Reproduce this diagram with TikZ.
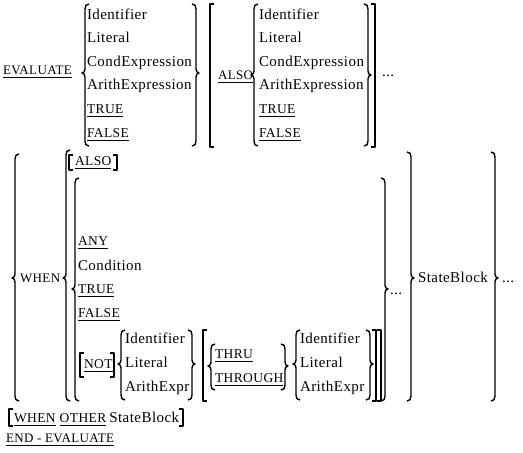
\documentclass[tikz,border=0pt]{standalone}
\usepackage{fontspec}
\newfontfamily\tfont[LetterSpace=3]{Liberation Serif}
\tikzset{
  txt/.style={anchor=base west, inner sep=0pt, outer sep=0pt, font=\tfont\fontsize{15}{15}\selectfont},
  kw/.style={txt, font=\tfont\fontsize{13.5}{13.5}\selectfont},
  kws/.style={txt, font=\tfont\fontsize{13}{13}\selectfont},
  br/.style={line width=1.4pt, line join=round},
  ul/.style={line width=0.9pt}
}
\newcommand\mylbrace[4]{\draw[br] (#1+4,#2) .. controls (#1+1,#2) and (#1,#2+2) .. (#1,#2+5) -- (#1,#4-4) .. controls (#1,#4-2) and (#1-1,#4) .. (#1-3,#4) .. controls (#1-1,#4) and (#1,#4+2) .. (#1,#4+4) -- (#1,#3-5) .. controls (#1,#3-2) and (#1+1,#3) .. (#1+4,#3);}
\newcommand\myrbrace[4]{\draw[br] (#1-4,#2) .. controls (#1-1,#2) and (#1,#2+2) .. (#1,#2+5) -- (#1,#4-4) .. controls (#1,#4-2) and (#1+1,#4) .. (#1+3,#4) .. controls (#1+1,#4) and (#1,#4+2) .. (#1,#4+4) -- (#1,#3-5) .. controls (#1,#3-2) and (#1-1,#3) .. (#1-4,#3);}
\newcommand\mylbrack[3]{\draw[br] (#1+4,#2) -- (#1,#2) -- (#1,#3) -- (#1+4,#3);}
\newcommand\myrbrack[3]{\draw[br] (#1-4,#2) -- (#1,#2) -- (#1,#3) -- (#1-4,#3);}
\newcommand\ulnode[5]{\node[#1] (#2) at (#3,#4) {#5}; \draw[ul] ([yshift=-3pt]#2.base west) -- ([yshift=-3pt]#2.base east);}
\begin{document}
\begin{tikzpicture}[x=1pt,y=-1pt]
\useasboundingbox (0,0) rectangle (523,453);
% ---- row 1
\ulnode{kws}{evaluate}{3}{74}{EVALUATE}
\mylbrace{85}{4}{146}{73}
\node[txt] (a1) at (87,19) {Identifier};
\node[txt] (a2) at (87,42.5) {Literal};
\node[txt] (a3) at (87,66) {CondExpression};
\node[txt] (a4) at (87,89.5) {ArithExpression};
\ulnode{kw}{a5}{87}{113.5}{TRUE}
\ulnode{kw}{a6}{87}{137}{FALSE}
\myrbrace{196}{4}{146}{73}
\mylbrack{210}{4}{147}
\ulnode{kws}{also1}{218}{79}{ALSO}
\mylbrace{254}{4}{146}{75}
\node[txt] (b1) at (259,19) {Identifier};
\node[txt] (b2) at (259,42.5) {Literal};
\node[txt] (b3) at (259,66) {CondExpression};
\node[txt] (b4) at (259,89.5) {ArithExpression};
\ulnode{kw}{b5}{259}{113.5}{TRUE}
\ulnode{kw}{b6}{259}{137}{FALSE}
\myrbrace{368}{4}{146}{75}
\myrbrack{375}{4}{147}
\node[txt] (dots1) at (382,76) {...};
% ---- row 2
\mylbrace{15}{154}{401}{278}
\node[kws] (when) at (20,282) {WHEN};
\mylbrace{66}{150}{401}{278}
\mylbrack{69}{155}{170}
\ulnode{kw}{also2}{75}{165}{ALSO}
\myrbrack{117}{155}{170}
\mylbrace{75}{178}{401}{289}
\ulnode{kw}{any}{78}{245}{ANY}
\node[txt] (cond) at (78,270) {Condition};
\ulnode{kw}{true2}{78}{293}{TRUE}
\ulnode{kw}{false2}{78}{317}{FALSE}
\mylbrack{80}{353}{377}
\ulnode{kw}{not}{84}{368}{NOT}
\myrbrack{114}{353}{377}
\mylbrace{121}{330}{400}{364}
\node[txt] (c1) at (125,343) {Identifier};
\node[txt] (c2) at (125,367) {Literal};
\node[txt] (c3) at (125,391) {ArithExpr};
\myrbrace{192}{330}{400}{364}
\mylbrack{203}{330}{401}
\mylbrace{211}{344}{390}{366}
\ulnode{kw}{thru}{215}{358}{THRU}
\ulnode{kw}{through}{215}{382}{THROUGH}
\myrbrace{285}{344}{390}{366}
\mylbrace{296}{330}{400}{364}
\node[txt] (d1) at (300,343) {Identifier};
\node[txt] (d2) at (300,367) {Literal};
\node[txt] (d3) at (300,391) {ArithExpr};
\myrbrace{370}{330}{400}{364}
\myrbrack{376}{330}{401}
\myrbrack{381}{330}{401}
\myrbrace{385}{178}{401}{289}
\node[txt] (dots2) at (390,294) {...};
\myrbrace{411}{152}{401}{278}
\node[txt] (sb) at (418,282) {StateBlock};
\myrbrace{495}{152}{401}{278}
\node[txt] (dots3) at (502,282) {...};
% ---- bottom
\mylbrack{9}{409}{426}
\node[kw] (when2) at (14,422) {WHEN};
\draw[ul] ([yshift=-3pt]when2.base west) -- ([yshift=-3pt]when2.base east);
\node[kw] (other) at ([xshift=4pt]when2.base east) {OTHER};
\draw[ul] ([yshift=-3pt]other.base west) -- ([yshift=-3pt]other.base east);
\node[txt] (sb2) at ([xshift=3pt]other.base east) {StateBlock};
\coordinate (rb) at ([xshift=4pt]sb2.base east);
\draw[br] ([shift={(-4,-13)}]rb) -- ([shift={(0,-13)}]rb) -- ([shift={(0,4)}]rb) -- ([shift={(-4,4)}]rb);
\ulnode{kws}{endeval}{6}{442}{END - EVALUATE}
\end{tikzpicture}
\end{document}
